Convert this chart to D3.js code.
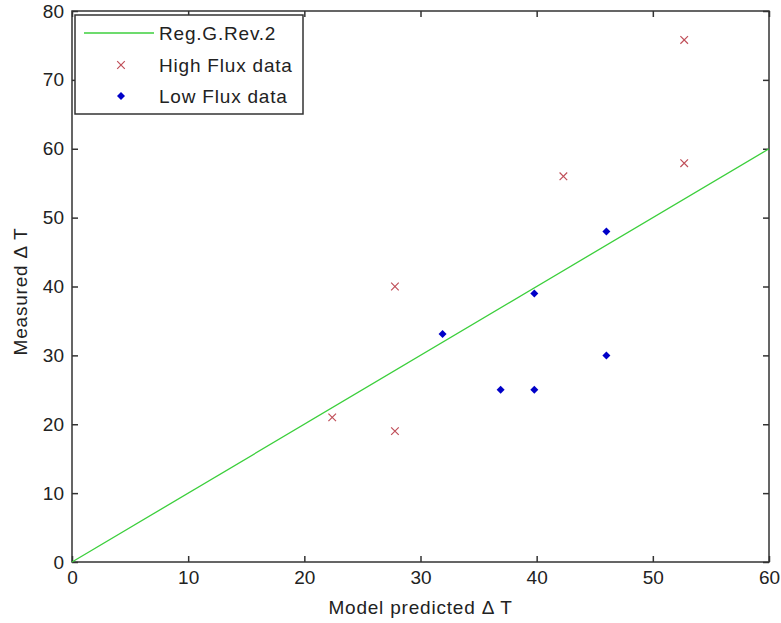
<!DOCTYPE html>
<html>
<head>
<meta charset="utf-8">
<script src="https://cdn.jsdelivr.net/npm/d3@7"></script>
<style>
  body { margin: 0; background: #fff; }
  svg text { font-family: "Liberation Sans", Arial, sans-serif; fill: #222; }
</style>
</head>
<body>
<div id="chart"></div>
<script>
// data
var highFluxX = [22.4, 27.8, 27.8, 42.3, 52.7, 52.7];
var highFluxY = [21, 40, 19, 56, 75.8, 57.9];
var lowFluxX = [31.9, 39.8, 46, 46, 36.9, 39.8];
var lowFluxY = [33.1, 39, 48, 30, 25, 25];
var regLine = [[0, 0], [60, 60]];
var xTicks = [0, 10, 20, 30, 40, 50, 60];
var yTicks = [0, 10, 20, 30, 40, 50, 60, 70, 80];
var legendLabels = ["Reg.G.Rev.2", "High Flux data", "Low Flux data"];

var width = 781, height = 623;
var margin = {top: 11, right: 12, bottom: 61, left: 72};
var w = width - margin.left - margin.right,
    h = height - margin.top - margin.bottom;

var svg = d3.select("#chart").append("svg")
    .attr("width", width)
    .attr("height", height);

var g = svg.append("g")
    .attr("transform", "translate(" + margin.left + "," + margin.top + ")");

var x = d3.scaleLinear().domain([0, 60]).range([0, w]);
var y = d3.scaleLinear().domain([0, 80]).range([h, 0]);

var axisColor = "#333";
var fontSize = "19px";

// axes, ticks inward on all four sides
var xAxis = g.append("g")
    .attr("transform", "translate(0," + h + ")")
    .call(d3.axisBottom(x).tickValues(xTicks).tickSizeInner(-6).tickSizeOuter(0).tickPadding(9));
var xTop = g.append("g")
    .call(d3.axisTop(x).tickValues(xTicks).tickSizeInner(-6).tickSizeOuter(0).tickFormat(""));
var yAxis = g.append("g")
    .call(d3.axisLeft(y).tickValues(yTicks).tickSizeInner(-6).tickSizeOuter(0).tickPadding(8));
var yRight = g.append("g")
    .attr("transform", "translate(" + w + ",0)")
    .call(d3.axisRight(y).tickValues(yTicks).tickSizeInner(-6).tickSizeOuter(0).tickFormat(""));

[xAxis, xTop, yAxis, yRight].forEach(function (a) {
    a.select(".domain").remove();
    a.selectAll("line").attr("stroke", axisColor).attr("stroke-width", 1.5);
    a.selectAll("text").style("font-size", fontSize).attr("fill", "#222");
});

// box
g.append("rect")
    .attr("width", w)
    .attr("height", h)
    .attr("fill", "none")
    .attr("stroke", axisColor)
    .attr("stroke-width", 1.5);

// regression line
var line = d3.line()
    .x(function (d) { return x(d[0]); })
    .y(function (d) { return y(d[1]); });

g.append("path")
    .datum(regLine)
    .attr("d", line)
    .attr("fill", "none")
    .attr("stroke", "#3ccf3c")
    .attr("stroke-width", 1.3);

function crossPath(cx, cy, s) {
    return "M" + (cx - s) + "," + (cy - s) + "L" + (cx + s) + "," + (cy + s) +
           "M" + (cx - s) + "," + (cy + s) + "L" + (cx + s) + "," + (cy - s);
}
function diamondPath(cx, cy, s) {
    return "M" + cx + "," + (cy - s) + "L" + (cx + s) + "," + cy +
           "L" + cx + "," + (cy + s) + "L" + (cx - s) + "," + cy + "Z";
}

g.selectAll(".high")
    .data(highFluxX)
    .enter().append("path")
    .attr("class", "high")
    .attr("d", function (d, i) { return crossPath(x(d), y(highFluxY[i]), 3.8); })
    .attr("stroke", "#c0505a")
    .attr("stroke-width", 1.2)
    .attr("fill", "none");

g.selectAll(".low")
    .data(lowFluxX)
    .enter().append("path")
    .attr("class", "low")
    .attr("d", function (d, i) { return diamondPath(x(d), y(lowFluxY[i]), 4); })
    .attr("fill", "#0000c8");

// legend
var legend = svg.append("g").attr("transform", "translate(75,15)");
legend.append("rect")
    .attr("width", 228)
    .attr("height", 99)
    .attr("fill", "#fff")
    .attr("stroke", axisColor)
    .attr("stroke-width", 1.5);

var rowY = [18, 50, 81];
legend.append("line")
    .attr("x1", 9).attr("x2", 79)
    .attr("y1", rowY[0]).attr("y2", rowY[0])
    .attr("stroke", "#3ccf3c")
    .attr("stroke-width", 1.3);
legend.append("path")
    .attr("d", crossPath(46, rowY[1], 3.8))
    .attr("stroke", "#c0505a")
    .attr("stroke-width", 1.2)
    .attr("fill", "none");
legend.append("path")
    .attr("d", diamondPath(46, rowY[2], 4))
    .attr("fill", "#0000c8");

legend.selectAll(".lab")
    .data(legendLabels)
    .enter().append("text")
    .attr("class", "lab")
    .attr("x", 84)
    .attr("y", function (d, i) { return rowY[i]; })
    .attr("dy", "0.36em")
    .style("font-size", fontSize)
    .style("letter-spacing", "0.8px")
    .text(function (d) { return d; });

// axis titles
svg.append("text")
    .attr("x", margin.left + w / 2)
    .attr("y", 614)
    .attr("text-anchor", "middle")
    .style("font-size", fontSize)
    .style("letter-spacing", "0.8px")
    .text("Model predicted \u0394 T");

svg.append("text")
    .attr("transform", "translate(27," + (margin.top + h / 2 + 5) + ") rotate(-90)")
    .attr("text-anchor", "middle")
    .style("font-size", fontSize)
    .style("letter-spacing", "0.8px")
    .text("Measured \u0394 T");
</script>
</body>
</html>
